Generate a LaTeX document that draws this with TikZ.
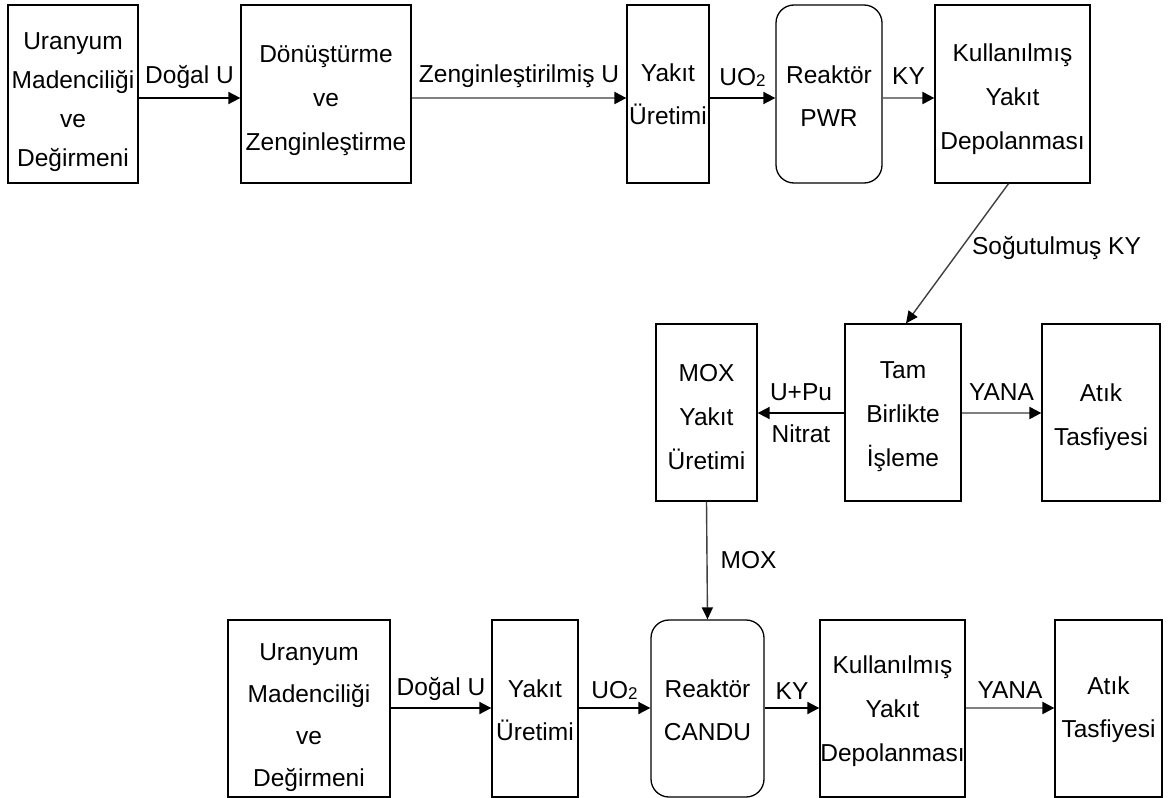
\documentclass[tikz,border=0pt]{standalone}
\usepackage{fontspec}
\setmainfont{Liberation Sans}
\usetikzlibrary{arrows.meta,calc}
\newcommand{\uotwo}{UO\raisebox{-0.5pt}{\fontsize{17}{17}\selectfont 2}}
\newcommand{\tstrut}[1]{\rule{0pt}{\dimexpr 17.8pt+#1pt\relax}}
\begin{document}
\begin{tikzpicture}[x=1pt,y=-1pt,
  box/.style={draw, line width=1.3pt, inner sep=0pt, align=center, font=\fontsize{24.5}{44}\selectfont},
  rbox/.style={box, rounded corners=18pt},
  arr/.style={line width=1.8pt, -{Triangle[length=12pt,width=12pt]}},
  garr/.style={line width=2.2pt, draw=black!50, -{Triangle[length=12pt,width=12pt,color=black]}},
  darr/.style={line width=1.4pt, draw=black!75, -{Triangle[length=12pt,width=11pt,color=black]}},
  lbl/.style={font=\fontsize{24.5}{28}\selectfont, inner sep=0pt}
]
\useasboundingbox (0,0) rectangle (1168,798);
\fill[white] (0,0) rectangle (1168,798);
\coordinate (r1) at (0,98);
\coordinate (r2) at (0,413);
\coordinate (r3) at (0,708);
% top row
\node[box, minimum width=130pt, minimum height=178pt, font=\fontsize{24.5}{39}\selectfont] (A) at (73,94) {\tstrut{16}Uranyum\\Madenciliği\\ve\\Değirmeni};
\node[box, minimum width=170pt, minimum height=178pt] (B) at (326,94) {\tstrut{12}Dönüştürme\\ve\\Zenginleştirme};
\node[box, minimum width=82pt, minimum height=178pt, font=\fontsize{24.5}{43}\selectfont] (C) at (668,94) {Yakıt\\Üretimi};
\node[rbox, minimum width=106pt, minimum height=178pt, font=\fontsize{24.5}{43}\selectfont] (D) at (829,94) {\tstrut{4}Reaktör\\PWR};
\node[box, minimum width=155pt, minimum height=178pt] (E) at (1012.5,94) {\tstrut{10}Kullanılmış\\Yakıt\\Depolanması};
% middle row
\node[box, minimum width=101pt, minimum height=177pt] (M) at (706.5,412.5) {\tstrut{8}MOX\\Yakıt\\Üretimi};
\node[box, minimum width=116pt, minimum height=177pt] (T) at (903,412.5) {\tstrut{8}Tam\\Birlikte\\İşleme};
\node[box, minimum width=118pt, minimum height=177pt] (W) at (1101,412.5) {\tstrut{10}Atık\\Tasfiyesi};
% bottom row
\node[box, minimum width=162pt, minimum height=177pt, font=\fontsize{24.5}{42}\selectfont] (A2) at (309,708.5) {\tstrut{18}Uranyum\\Madenciliği\\ve\\Değirmeni};
\node[box, minimum width=86pt, minimum height=177pt, font=\fontsize{24.5}{43}\selectfont] (C2) at (535,708.5) {\tstrut{4}Yakıt\\Üretimi};
\node[rbox, minimum width=113pt, minimum height=177pt, font=\fontsize{24.5}{43}\selectfont] (D2) at (707.5,708.5) {\tstrut{4}Reaktör\\CANDU};
\node[box, minimum width=145pt, minimum height=177pt] (E2) at (892.5,708.5) {\tstrut{6}Kullanılmış\\Yakıt\\Depolanması};
\node[box, minimum width=107pt, minimum height=177pt, font=\fontsize{24.5}{43}\selectfont] (W2) at (1108.5,708.5) {\tstrut{2}Atık\\Tasfiyesi};
% top connectors
\draw[arr] (A.east |- r1) -- node[lbl, above=9pt] {Doğal U} (B.west |- r1);
\draw[garr] (B.east |- r1) -- node[lbl, above=9pt] {Zenginleştirilmiş U} (C.west |- r1);
\draw[arr] (C.east |- r1) -- node[lbl, above=11pt] {\uotwo} (D.west |- r1);
\draw[garr] (D.east |- r1) -- node[lbl, above=12pt] {KY} (E.west |- r1);
\draw[darr] ([xshift=-4pt]E.south) -- node[lbl, pos=0.46, right=10pt] {Soğutulmuş KY} ([xshift=3pt]T.north);
% middle connectors
\draw[arr] (T.west |- r2) -- node[lbl, above=11pt] {U+Pu} node[lbl, below=11pt] {Nitrat} (M.east |- r2);
\draw[garr] (T.east |- r2) -- node[lbl, above=11pt] {YANA} (W.west |- r2);
\draw[darr] (M.south) -- node[lbl, right=13pt] {MOX} (D2.north);
% bottom connectors
\draw[arr] (A2.east |- r3) -- node[lbl, above=7pt] {Doğal U} (C2.west |- r3);
\draw[arr] (C2.east |- r3) -- node[lbl, above=8pt] {\uotwo} (D2.west |- r3);
\draw[arr] (D2.east |- r3) -- node[lbl, above=8pt] {KY} (E2.west |- r3);
\draw[garr] (E2.east |- r3) -- node[lbl, above=8pt] {YANA} (W2.west |- r3);
\end{tikzpicture}
\end{document}
